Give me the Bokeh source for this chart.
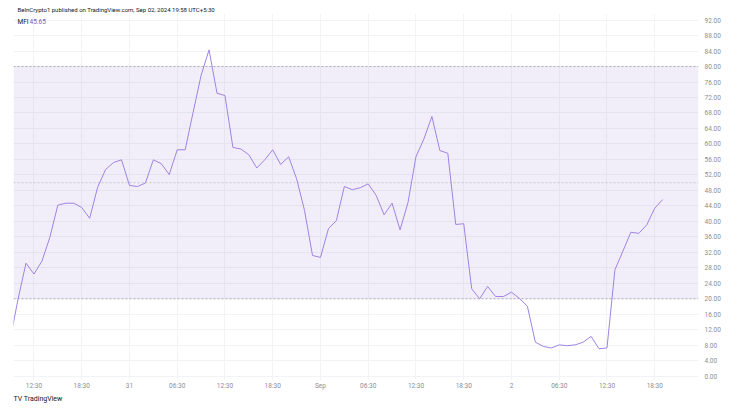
from bokeh.plotting import figure
from bokeh.models import (BoxAnnotation, Span, Label, FixedTicker, NumeralTickFormatter,
                          LinearAxis, Range1d, ColumnDataSource, Title)
from bokeh.embed import file_html
from bokeh.resources import INLINE

# hours counted from Aug 30 00:30 (UTC+5:30), hourly MFI readings
hours = list(range(9, 92))
mfi = [9.4, 19.9, 29.2, 26.4, 29.7, 35.9, 44.2, 44.7, 44.7, 43.6,
       40.8, 48.8, 53.4, 55.2, 55.9, 49.3, 49.0, 49.9, 55.9, 54.9,
       52.1, 58.5, 58.5, 68.2, 77.7, 84.3, 73.1, 72.5, 59.1, 58.7,
       57.2, 53.8, 55.9, 58.5, 54.7, 56.7, 51.0, 42.8, 31.2, 30.7,
       38.1, 40.2, 49.0, 48.2, 48.7, 49.7, 46.7, 41.7, 44.7, 37.8,
       44.9, 56.7, 61.3, 67.1, 58.3, 57.6, 39.2, 39.4, 22.6, 20.0,
       23.2, 20.6, 20.6, 21.7, 20.1, 18.1, 8.8, 7.7, 7.3, 8.1,
       7.9, 8.1, 8.8, 10.3, 7.1, 7.3, 27.5, 32.3, 37.2, 36.9,
       39.1, 43.4, 45.65]

x_ticks = [12, 18, 24, 30, 36, 42, 48, 54, 60, 66, 72, 78, 84, 90]
x_labels = ["12:30", "18:30", "31", "06:30", "12:30", "18:30", "Sep",
            "06:30", "12:30", "18:30", "2", "06:30", "12:30", "18:30"]
y_ticks = [0, 4, 8, 12, 16, 20, 24, 28, 32, 36, 40, 44, 48, 52, 56, 60,
           64, 68, 72, 76, 80, 84, 88, 92]
band_low, band_mid, band_high = 20, 50, 80
last_value = "45.65"

FONT = "Roboto"
LABEL_GRAY = "#8a8d96"
PURPLE = "#7e57c2"
LINE = "#9f83e0"

p = figure(width=741, height=414, output_backend="svg", toolbar_location=None,
           x_range=Range1d(9.43, 95.5), y_range=Range1d(-1.1, 93.7),
           min_border_left=13, min_border_right=43, min_border_top=13,
           min_border_bottom=34, x_axis_location=None, y_axis_location=None)
p.outline_line_color = None
p.background_fill_color = "white"
p.border_fill_color = "white"

# header / footer texts
p.add_layout(Title(text="BeInCrypto1 published on TradingView.com, Sep 02, 2024 19:58 UTC+5:30",
                   text_font=FONT, text_font_size="6px", text_color="#131722",
                   text_font_style="normal", align="left", offset=4, standoff=1),
             "above")

# axes
xaxis = LinearAxis(ticker=FixedTicker(ticks=x_ticks),
                   major_label_overrides={t: l for t, l in zip(x_ticks, x_labels)})
xaxis.axis_line_color = None
xaxis.major_tick_line_color = None
xaxis.minor_tick_line_color = None
xaxis.major_tick_out = 0
xaxis.major_tick_in = 0
xaxis.major_label_standoff = 1
xaxis.major_label_text_font = FONT
xaxis.major_label_text_font_size = "6.5px"
xaxis.major_label_text_color = LABEL_GRAY
p.add_layout(xaxis, "below")

p.add_layout(Title(text="TV  TradingView", text_font=FONT, text_font_size="7px",
                   text_color="#131722", text_font_style="normal", align="left",
                   offset=0, standoff=1), "below")

yaxis = LinearAxis(ticker=FixedTicker(ticks=y_ticks),
                   formatter=NumeralTickFormatter(format="0.00"))
yaxis.axis_line_color = None
yaxis.major_tick_line_color = None
yaxis.minor_tick_line_color = None
yaxis.major_tick_out = 0
yaxis.major_tick_in = 0
yaxis.major_label_standoff = 6
yaxis.major_label_text_font = FONT
yaxis.major_label_text_font_size = "6.5px"
yaxis.major_label_text_color = LABEL_GRAY
p.add_layout(yaxis, "right")

p.xgrid.ticker = FixedTicker(ticks=x_ticks)
p.ygrid.ticker = FixedTicker(ticks=y_ticks)
p.xgrid.grid_line_color = "#f2f3f7"
p.ygrid.grid_line_color = "#f2f3f7"
p.grid.grid_line_width = 1

# band
p.add_layout(BoxAnnotation(bottom=band_low, top=band_high, fill_color=PURPLE,
                           fill_alpha=0.1, line_color=None, level="underlay"))
for v, a in [(band_high, 0.75), (band_low, 0.75), (band_mid, 0.45)]:
    p.add_layout(Span(location=v, dimension="width", line_color="#9598a1",
                      line_alpha=a, line_dash="2 2", line_width=1))

src = ColumnDataSource(dict(t=hours, v=mfi))
p.line("t", "v", source=src, line_color=LINE, line_width=1)

# indicator label inside the pane
p.add_layout(Label(x=4, y=359, x_units="screen", y_units="screen", text="MFI",
                   text_font=FONT, text_font_size="6.5px", text_color="#131722",
                   text_baseline="middle"))
p.add_layout(Label(x=16, y=359, x_units="screen", y_units="screen", text=last_value,
                   text_font=FONT, text_font_size="6.5px", text_color=PURPLE,
                   text_baseline="middle"))

open("out.html", "w").write(file_html(p, INLINE))
